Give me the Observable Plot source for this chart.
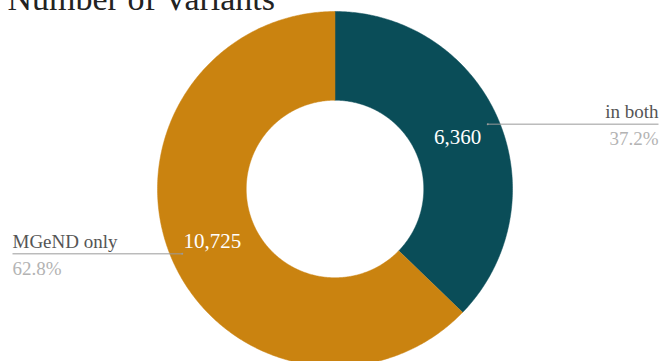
<!DOCTYPE html>
<html>
<head>
<meta charset="utf-8">
<script src="https://cdn.jsdelivr.net/npm/d3@7"></script>
<script src="https://cdn.jsdelivr.net/npm/@observablehq/plot@0.6"></script>
<style>
  html, body { margin: 0; padding: 0; background: #fff; }
  svg text { font-family: "Liberation Serif", "Times New Roman", serif; }
</style>
</head>
<body>
<div id="chart"></div>
<script>
const title = "Number of Variants";
const categories = ["in both", "MGeND only"];
const values = [6360, 10725];
const colors = ["#0a4d58", "#ca8310"];

const W = 660, H = 361;
const cx = 334.5, cy = 188.5, R = 177.5;
const innerRatio = 0.5;
const FONT = "Liberation Serif";

const total = d3.sum(values);
const pie = d3.pie().sort(null).value(d => d.value);
const arcs = pie(categories.map((c, i) => ({cat: c, value: values[i], color: colors[i]})));

function slicePoints(a) {
  const pts = [];
  const n = Math.max(8, Math.ceil((a.endAngle - a.startAngle) / 0.01));
  for (let k = 0; k <= n; k++) {
    const t = a.startAngle + (a.endAngle - a.startAngle) * k / n;
    pts.push({x: Math.sin(t), y: Math.cos(t)});
  }
  for (let k = n; k >= 0; k--) {
    const t = a.startAngle + (a.endAngle - a.startAngle) * k / n;
    pts.push({x: innerRatio * Math.sin(t), y: innerRatio * Math.cos(t)});
  }
  return pts;
}

const xDomain = [-cx / R, (W - cx) / R];
const yDomain = [-(H - cy) / R, cy / R];
const leftEdge = xDomain[0] + 12 / R;
const rightEdge = xDomain[1] - 2 / R;

const centroids = arcs.map(a => {
  const m = (a.startAngle + a.endAngle) / 2;
  const r = (1 + innerRatio) / 2;
  return {x: r * Math.sin(m), y: r * Math.cos(m), label: d3.format(",")(a.data.value)};
});

const leaders = arcs.map(a => {
  const m = (a.startAngle + a.endAngle) / 2;
  const r = 0.935;
  const x1 = r * Math.sin(m), y1 = r * Math.cos(m);
  const right = x1 >= 0;
  return {
    x1, y1, x2: right ? rightEdge : leftEdge, y2: y1, right,
    name: a.data.cat,
    pct: d3.format(".1%")(a.data.value / total)
  };
});

const sliceMarks = arcs.map(a => Plot.line(slicePoints(a), {
  x: "x", y: "y", fill: a.data.color, stroke: a.data.color, strokeWidth: 0.5
}));

const sideLabels = (right) => [
  Plot.text(leaders.filter(d => d.right === right), {
    x: "x2", y: "y2", text: "name", fill: "#555555", fontSize: 19, fontFamily: FONT,
    textAnchor: right ? "end" : "start", lineAnchor: "bottom", dy: -6
  }),
  Plot.text(leaders.filter(d => d.right === right), {
    x: "x2", y: "y2", text: "pct", fill: "#b3b3b3", fontSize: 19, fontFamily: FONT,
    textAnchor: right ? "end" : "start", lineAnchor: "bottom", dy: 21
  })
];

const chart = Plot.plot({
  width: W, height: H,
  margin: 0,
  x: {domain: xDomain, axis: null},
  y: {domain: yDomain, axis: null},
  style: {fontFamily: FONT, background: "#fff"},
  marks: [
    ...sliceMarks,
    Plot.link(leaders, {x1: "x1", y1: "y1", x2: "x2", y2: "y2", stroke: "#9a9a9a", strokeWidth: 1}),
    Plot.dot(leaders, {x: "x1", y: "y1", r: 1, fill: "#9a9a9a"}),
    Plot.text(centroids, {
      x: "x", y: "y", text: "label", fill: "#ffffff", fontSize: 21, fontFamily: FONT,
      textAnchor: "middle", lineAnchor: "middle"
    }),
    ...sideLabels(true),
    ...sideLabels(false),
    Plot.text([title], {
      frameAnchor: "top-left", text: d => d, fill: "#222222", fontSize: 34, fontFamily: FONT,
      textAnchor: "start", lineAnchor: "bottom", dx: 7, dy: 9
    })
  ]
});
document.getElementById("chart").appendChild(chart);
</script>
</body>
</html>
